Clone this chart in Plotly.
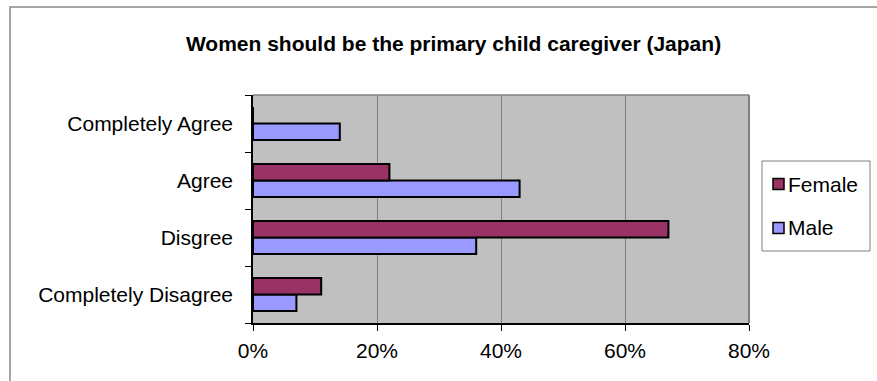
import plotly.graph_objects as go

# Survey answers, listed bottom-to-top as they appear on the axis
categories = ["Completely Disagree", "Disgree", "Agree", "Completely Agree"]
female = [11, 67, 22, 0]
male = [7, 36, 43, 14]
x_ticks = [0, 20, 40, 60, 80]
x_tick_labels = ["0%", "20%", "40%", "60%", "80%"]

FEMALE_COLOR = "#993366"
MALE_COLOR = "#9999FF"
FONT = "Liberation Sans, Arial, sans-serif"
FS = 21

W, H = 877, 381
ML, MR, MT, MB = 253, 128, 95, 58
PW, PH = W - ML - MR, H - MT - MB


def px_x(x):
    return (x - ML) / PW


def px_y(y):
    return (H - MB - y) / PH


fig = go.Figure()
fig.add_trace(go.Bar(
    y=categories, x=male, name="Male", orientation="h",
    marker=dict(color=MALE_COLOR, line=dict(color="black", width=2)),
    showlegend=False,
))
fig.add_trace(go.Bar(
    y=categories, x=female, name="Female", orientation="h",
    marker=dict(color=FEMALE_COLOR, line=dict(color="black", width=2)),
    showlegend=False,
))

shapes = [
    # outer chart frame
    dict(type="rect", xref="paper", yref="paper",
         x0=px_x(10), y0=px_y(H + 20), x1=px_x(W + 20), y1=px_y(7),
         line=dict(color="#888888", width=1.5), fillcolor="rgba(0,0,0,0)"),
    # plot area border (top and right)
    dict(type="line", xref="paper", yref="paper", x0=0, x1=1, y0=1, y1=1,
         line=dict(color="#808080", width=1.5)),
    dict(type="line", xref="paper", yref="paper", x0=1, x1=1, y0=0, y1=1,
         line=dict(color="#808080", width=2)),
    # legend box
    dict(type="rect", xref="paper", yref="paper",
         x0=px_x(762), x1=px_x(870), y0=px_y(251), y1=px_y(161),
         line=dict(color="#808080", width=1), fillcolor="white"),
]

annotations = []
legend_items = [("Female", FEMALE_COLOR, 184), ("Male", MALE_COLOR, 228)]
for label, color, yc in legend_items:
    shapes.append(dict(type="rect", xref="paper", yref="paper",
                       x0=px_x(773), x1=px_x(784), y0=px_y(yc + 5.5), y1=px_y(yc - 5.5),
                       line=dict(color="black", width=1.5), fillcolor=color))
    annotations.append(dict(x=px_x(786), y=px_y(yc), xref="paper", yref="paper",
                            text=label, showarrow=False, xanchor="left", yanchor="middle",
                            font=dict(family=FONT, size=FS, color="black")))

fig.update_layout(
    width=W, height=H,
    margin=dict(l=ML, r=MR, t=MT, b=MB),
    paper_bgcolor="white",
    plot_bgcolor="#C0C0C0",
    barmode="group",
    bargap=0.42,
    bargroupgap=0,
    font=dict(family=FONT, size=FS, color="black"),
    title=dict(
        text="<b>Women should be the primary child caregiver (Japan)</b>",
        x=453.5 / W, xanchor="center", y=1 - 44 / H, yanchor="middle",
        font=dict(family=FONT, size=FS, color="black"),
    ),
    xaxis=dict(
        range=[0, 80], tickmode="array", tickvals=x_ticks, ticktext=x_tick_labels,
        showgrid=True, gridcolor="#808080", gridwidth=1, zeroline=False,
        showline=True, linecolor="black", linewidth=2,
        ticks="outside", ticklen=6, tickcolor="black", tickwidth=1,
        tickfont=dict(family=FONT, size=FS, color="black"),
        ticklabelstandoff=2,
        fixedrange=True,
    ),
    yaxis=dict(
        type="category", categoryorder="array", categoryarray=categories,
        range=[-0.5, 3.5],
        showgrid=False, zeroline=False,
        showline=True, linecolor="black", linewidth=1.5,
        ticks="outside", ticklen=6, tickcolor="black", tickwidth=1,
        tickson="boundaries",
        tickfont=dict(family=FONT, size=FS, color="black"),
        ticklabelstandoff=14,
        fixedrange=True,
    ),
    shapes=shapes,
    annotations=annotations,
)

fig.write_html("out.html", config={"displayModeBar": False})
